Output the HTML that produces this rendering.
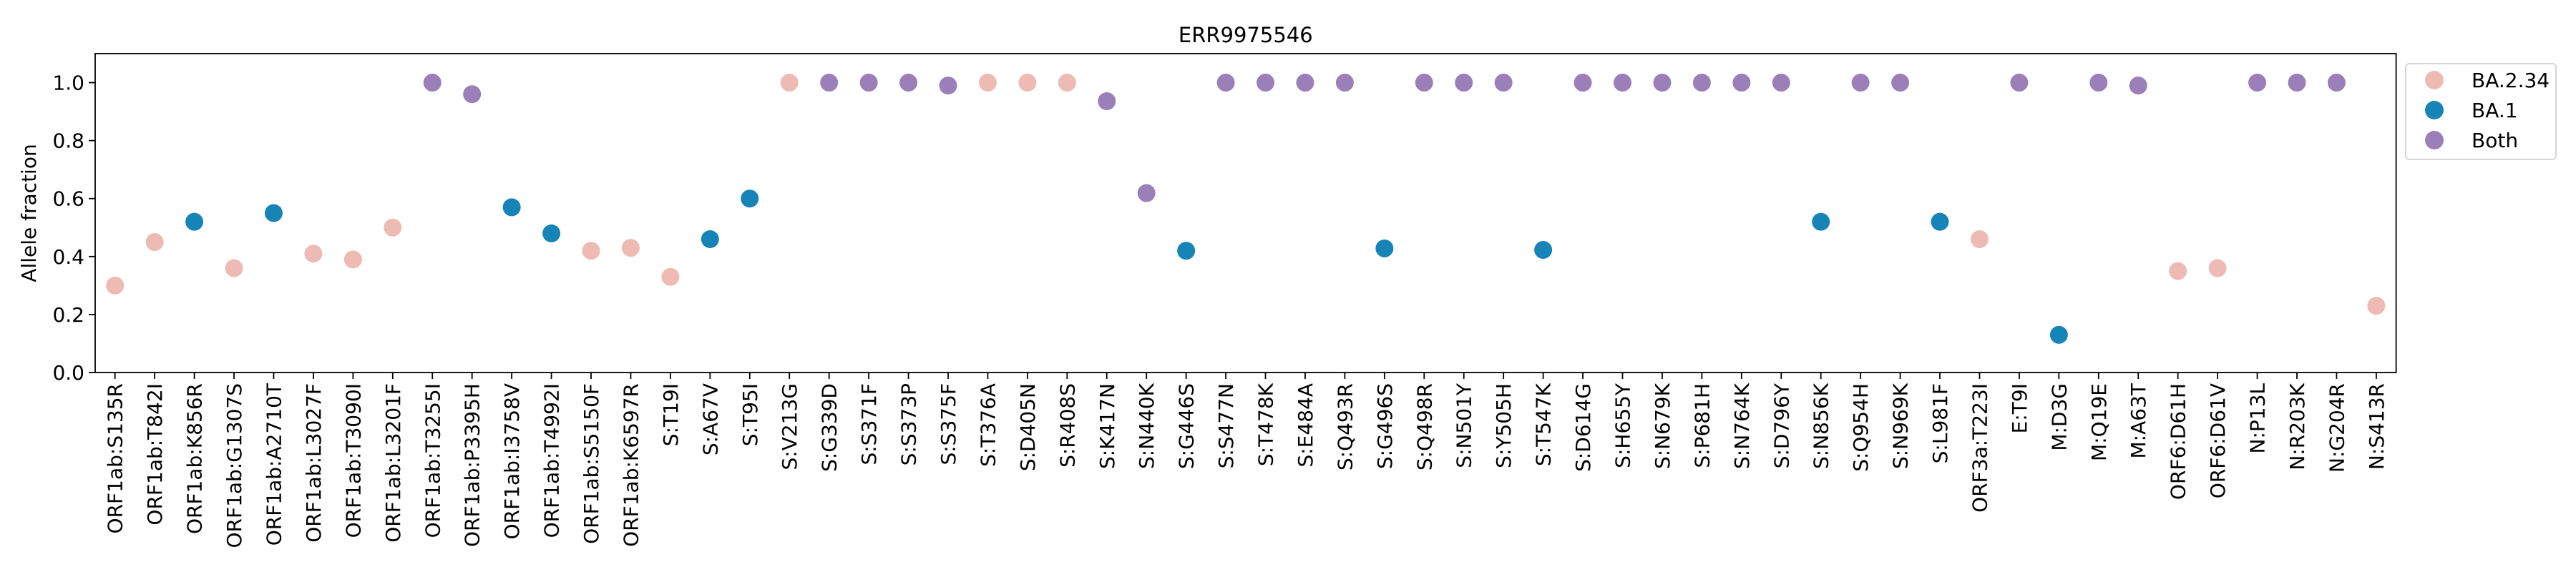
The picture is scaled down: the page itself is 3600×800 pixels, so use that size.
<!DOCTYPE html>
<html><head><meta charset="utf-8"><style>
html,body{margin:0;padding:0;background:#fff;}
svg{display:block;font-family:"DejaVu Sans","Liberation Sans",sans-serif;}
</style></head><body>
<svg id="chart" width="3600" height="800" viewBox="0 0 3600 800" xmlns="http://www.w3.org/2000/svg"></svg>
<script>
const categories = ["ORF1ab:S135R","ORF1ab:T842I","ORF1ab:K856R","ORF1ab:G1307S","ORF1ab:A2710T","ORF1ab:L3027F","ORF1ab:T3090I","ORF1ab:L3201F","ORF1ab:T3255I","ORF1ab:P3395H","ORF1ab:I3758V","ORF1ab:T4992I","ORF1ab:S5150F","ORF1ab:K6597R","S:T19I","S:A67V","S:T95I","S:V213G","S:G339D","S:S371F","S:S373P","S:S375F","S:T376A","S:D405N","S:R408S","S:K417N","S:N440K","S:G446S","S:S477N","S:T478K","S:E484A","S:Q493R","S:G496S","S:Q498R","S:N501Y","S:Y505H","S:T547K","S:D614G","S:H655Y","S:N679K","S:P681H","S:N764K","S:D796Y","S:N856K","S:Q954H","S:N969K","S:L981F","ORF3a:T223I","E:T9I","M:D3G","M:Q19E","M:A63T","ORF6:D61H","ORF6:D61V","N:P13L","N:R203K","N:G204R","N:S413R"];
const values = [0.30,0.45,0.52,0.36,0.55,0.41,0.39,0.50,1.0,0.96,0.57,0.48,0.42,0.43,0.33,0.46,0.60,1.0,1.0,1.0,1.0,0.99,1.0,1.0,1.0,0.936,0.619,0.42,1.0,1.0,1.0,1.0,0.428,1.0,1.0,1.0,0.423,1.0,1.0,1.0,1.0,1.0,1.0,0.52,1.0,1.0,0.52,0.46,1.0,0.13,1.0,0.99,0.35,0.36,1.0,1.0,1.0,0.23];
const groups = ["BA.2.34","BA.2.34","BA.1","BA.2.34","BA.1","BA.2.34","BA.2.34","BA.2.34","Both","Both","BA.1","BA.1","BA.2.34","BA.2.34","BA.2.34","BA.1","BA.1","BA.2.34","Both","Both","Both","Both","BA.2.34","BA.2.34","BA.2.34","Both","Both","BA.1","Both","Both","Both","Both","BA.1","Both","Both","Both","BA.1","Both","Both","Both","Both","Both","Both","BA.1","Both","Both","BA.1","BA.2.34","Both","BA.1","Both","Both","BA.2.34","BA.2.34","Both","Both","Both","BA.2.34"];
const yTicks = [0.0,0.2,0.4,0.6,0.8,1.0];
const legendLabels = ["BA.2.34","BA.1","Both"];
const colorMap = {"BA.2.34":"#eebab4","BA.1":"#1684b7","Both":"#9a7fb9"};

const NS="http://www.w3.org/2000/svg";
const svg=document.getElementById('chart');
const L=133,R=3348.6,T=75,B=521;
const xs=i=>L+(i+0.5)/categories.length*(R-L);
const ys=v=>B-(v/1.1)*(B-T);
function mk(tag,attrs,parent){const e=document.createElementNS(NS,tag);for(const k in attrs)e.setAttribute(k,attrs[k]);(parent||svg).appendChild(e);return e;}

const title=mk('text',{x:(L+R)/2,y:59,'text-anchor':'middle','font-size':29});


title.textContent='ERR9975546';

const yl=mk('text',{x:0,y:0,'text-anchor':'middle','font-size':28,transform:`translate(50,${(T+B)/2}) rotate(-90)`});


yl.textContent='Allele fraction';

yTicks.forEach(t=>{
  const y=ys(t);
  const tk=mk('line',{x1:L-9,x2:L,y1:y,y2:y,stroke:'#000','stroke-width':1.8});
  
  
  const tl=mk('text',{x:L-15,y:y+10,'text-anchor':'end','font-size':28});
  
  
  tl.textContent=t.toFixed(1);
});

categories.forEach((c,i)=>{
  const x=xs(i);
  const tk=mk('line',{x1:x,x2:x,y1:B,y2:B+9,stroke:'#000','stroke-width':1.8});
  
  
  const tl=mk('text',{x:0,y:0,'text-anchor':'end','font-size':28,transform:`translate(${x+10},${B+15}) rotate(-90)`});
  
  
  tl.textContent=c;
});

categories.forEach((c,i)=>{
  const p=mk('circle',{cx:xs(i),cy:ys(values[i]),r:12.5,fill:colorMap[groups[i]]});
  
  
});

const frame=mk('rect',{x:L,y:T,width:R-L,height:B-T,fill:'none',stroke:'#000','stroke-width':1.8});



const lg=mk('g',{});


mk('rect',{x:3362,y:89,width:210,height:134,rx:5,fill:'#fff',stroke:'#d6d6d6','stroke-width':2},lg);
legendLabels.forEach((l,k)=>{
  const y=112+k*42;
  const g=mk('g',{},lg);
  
  
  mk('circle',{cx:3402,cy:y,r:13,fill:colorMap[l]},g);
  const t=mk('text',{x:3454,y:y+10,'font-size':28},g);
  t.textContent=l;
});
</script>
</body></html>
